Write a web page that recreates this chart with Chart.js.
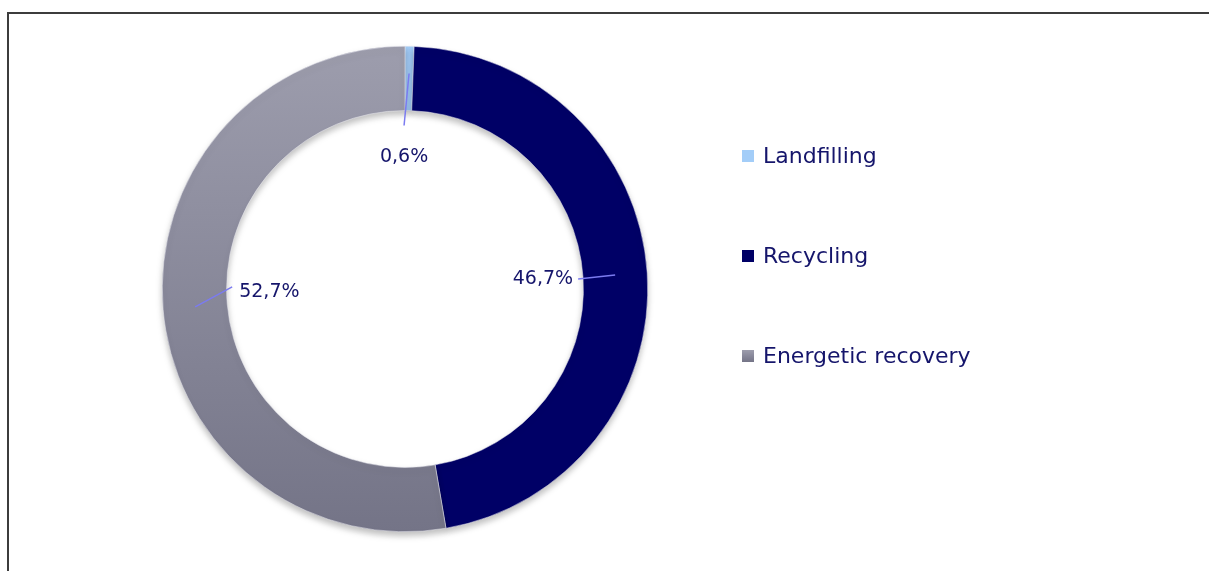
<!DOCTYPE html>
<html>
<head>
<meta charset="utf-8">
<script src="https://cdn.jsdelivr.net/npm/chart.js@4.4.0/dist/chart.umd.min.js"></script>
<style>
  html, body { margin: 0; padding: 0; background: #fff; overflow: hidden; }
  #wrap { position: relative; width: 1209px; height: 571px; }
  #frame { position: absolute; left: 7px; top: 12px; width: 1220px; height: 600px;
           border-top: 2px solid #3c3c3c; border-left: 2px solid #3c3c3c; }
  #legend { position: absolute; left: 742px; top: 0; font-family: "DejaVu Sans", sans-serif;
            font-size: 22px; color: #15156b; }
  .item { position: absolute; left: 0; white-space: nowrap; line-height: 24px; }
  .box { display: inline-block; width: 12px; height: 12px; margin-right: 9px; vertical-align: 1px; }
</style>
</head>
<body>
<div id="wrap">
  <div id="frame"></div>
  <canvas id="mycanvas" width="1209" height="571"></canvas>
  <div id="legend"></div>
</div>
<script>
var categories = ['Landfilling', 'Recycling', 'Energetic recovery'];
var shares = [0.6, 46.7, 52.7];
var shareLabels = ['0,6%', '46,7%', '52,7%'];
var colors = ['#a3cdf8', '#000066', 'gray'];
var legendTops = [144, 244, 344];

// label offsets from the point in the ring: [line end dx, dy, text dx, dy, align]
var labelPos = [
	[-5, 52, -5, 84, 'center'],
	[-37, 4, -42, 4, 'right'],
	[37, -20, 44, -15, 'left']
];

function grayFill(ctx) {
	var area = ctx.chart.chartArea;
	if (!area) return '#8a8a9c';
	var g = ctx.chart.ctx.createLinearGradient(0, area.top, 0, area.bottom);
	g.addColorStop(0, '#9d9dad');
	g.addColorStop(1, '#747487');
	return g;
}

var labelPlugin = {
	id: 'ringLabels',
	beforeDatasetsDraw: function(chart) {
		var c = chart.ctx;
		c.save();
		c.shadowColor = 'rgba(0,0,0,0.25)';
		c.shadowBlur = 6;
		c.shadowOffsetY = 4;
	},
	afterDatasetsDraw: function(chart) {
		var c = chart.ctx;
		c.restore();
		var meta = chart.getDatasetMeta(0);
		meta.data.forEach(function(arc, i) {
			var p = arc.getProps(['x', 'y', 'startAngle', 'endAngle', 'innerRadius', 'outerRadius'], true);
			var mid = (p.startAngle + p.endAngle) / 2;
			var r = (p.innerRadius + p.outerRadius) / 2 + (i == 0 ? 5 : 0);
			var x0 = p.x + Math.cos(mid) * r;
			var y0 = p.y + Math.sin(mid) * r;
			var o = labelPos[i];
			c.save();
			c.strokeStyle = '#7b7bf0';
			c.lineWidth = 1.5;
			c.beginPath();
			c.moveTo(x0, y0);
			c.lineTo(x0 + o[0], y0 + o[1]);
			c.stroke();
			c.fillStyle = '#15156b';
			c.font = '19px "DejaVu Sans", sans-serif';
			c.textAlign = o[4];
			c.textBaseline = 'middle';
			c.fillText(shareLabels[i], x0 + o[2], y0 + o[3]);
			c.restore();
		});
	}
};

var chartdata = {
	labels: categories,
	datasets: [
		{
			data: shares,
			backgroundColor: function(ctx) {
				var col = colors[ctx.dataIndex];
				return col == 'gray' ? grayFill(ctx) : col;
			},
			borderColor: '#e8e8f0',
			borderWidth: 0.5
		}
	]
};

var ctx = document.getElementById('mycanvas');
var ring = new Chart(ctx, {
	type: 'doughnut',
	data: chartdata,
	options: {
		responsive: false,
		animation: false,
		cutout: '73.5%',
		layout: { padding: { left: 162, right: 561, top: 46, bottom: 39 } },
		plugins: {
			legend: { display: false },
			tooltip: { enabled: false }
		}
	},
	plugins: [labelPlugin]
});

var legend = document.getElementById('legend');
categories.forEach(function(name, i) {
	var item = document.createElement('div');
	item.className = 'item';
	item.style.top = legendTops[i] + 'px';
	var box = document.createElement('span');
	box.className = 'box';
	box.style.background = colors[i] == 'gray' ? 'linear-gradient(#9d9dad, #747487)' : colors[i];
	item.appendChild(box);
	item.appendChild(document.createTextNode(name));
	legend.appendChild(item);
});
</script>
</body>
</html>
